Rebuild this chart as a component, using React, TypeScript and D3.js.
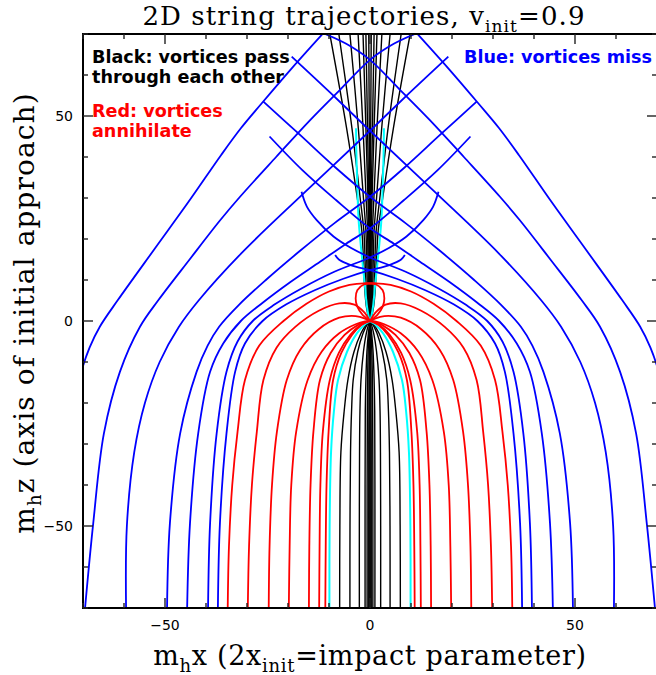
import React from "react";
import * as d3 from "d3";

type Pt = [number, number];

// ---- data: one half of each family (start at x = -b, bottom) ----
// the other half is the mirror image x -> -x

const blackTracks: Pt[][] = [
  [[-7.4, -70], [-7.35, -50], [-7.1, -32], [-6.3, -22], [-5.4, -14.4], [-3.9, -7.5], [-2.2, -3], [-0.8, -0.7], [0, 0], [0.8, 3], [1.3, 8], [1.6, 15], [2, 22], [3.1, 30], [5.7, 47], [9.8, 70]],
  [[-4.9, -70], [-4.88, -50], [-4.75, -32], [-4.5, -22], [-4.1, -14.4], [-3, -7.5], [-1.7, -3], [-0.6, -0.7], [0, 0], [0.6, 3], [1, 8], [1.2, 15], [1.5, 22], [2.4, 30], [4.4, 47], [7.6, 70]],
  [[-2.6, -70], [-2.6, -50], [-2.55, -32], [-2.45, -22], [-2.2, -14.4], [-1.6, -7.5], [-0.9, -3], [-0.3, -0.7], [0, 0], [0.4, 3], [0.65, 8], [0.8, 15], [1, 22], [1.6, 30], [2.85, 47], [4.9, 70]],
  [[-1.2, -70], [-1.2, -40], [-1.15, -22], [-1.0, -14.4], [-0.75, -7.5], [-0.4, -3], [0, 0], [0.25, 3], [0.4, 8], [0.5, 15], [0.6, 22], [0.95, 30], [1.7, 47], [2.9, 70]],
  [[-0.7, -70], [-0.7, -40], [-0.65, -22], [-0.55, -12], [-0.4, -6], [-0.2, -2.5], [0, 0], [0.15, 3], [0.22, 8], [0.26, 15], [0.32, 22], [0.5, 30], [1, 47], [1.7, 70]],
  [[-0.3, -70], [-0.3, -30], [-0.25, -14], [-0.15, -5], [0, 0], [0.1, 8], [0.15, 20], [0.3, 30], [0.6, 47], [1, 70]],
  [[0, -70], [0, -20], [0, 0], [0.05, 20], [0.3, 70]],
];

const cyanTracks: Pt[][] = [
  [[-9.9, -70], [-9.85, -50], [-9.5, -32], [-8.8, -22], [-7.8, -14.4], [-5.6, -7.5], [-3.2, -3], [-1.2, -0.8], [0, 0], [0.3, 1], [0.8, 4], [1.2, 8.4], [1.8, 14], [2.4, 20], [2.8, 25], [3.1, 33], [3.3, 40], [3.4, 47]],
];

const redTracks: Pt[][] = [
  [[-34.7, -70], [-34.4, -55], [-33.6, -40], [-32.3, -27], [-30.5, -14.4], [-27, -6], [-21.1, 0], [-15.5, 4.2], [-10, 7.2], [-5, 8.8], [-1.5, 9.2], [1.5, 8.9], [3.1, 7.5], [3.5, 5.5], [3.1, 3.5], [1.8, 1.5], [0, 0]],
  [[-29.8, -70], [-29.5, -55], [-28.8, -40], [-27.6, -27], [-26, -14.4], [-22.8, -6.5], [-18.3, -1.5], [-12.5, 2.5], [-7.5, 4.3], [-3.8, 4.0], [-1.5, 2.2], [0, 0]],
  [[-24.7, -70], [-24.5, -55], [-23.9, -40], [-22.7, -27], [-20.3, -14.4], [-17, -7], [-12.5, -2], [-7.5, 0.8], [-3.5, 1.2], [-1.2, 0.6], [0, 0]],
  [[-19.8, -70], [-19.6, -55], [-19.2, -40], [-18, -27], [-15.2, -14.4], [-11.8, -7.5], [-7.5, -3], [-3.5, -0.8], [-1.2, -0.1], [0, 0]],
  [[-14.9, -70], [-14.8, -55], [-14.5, -40], [-13.8, -27], [-12.2, -14.4], [-9.6, -7.8], [-6.2, -3.4], [-3, -1], [-1, -0.2], [0, 0]],
  [[-12.4, -70], [-12.3, -55], [-12.1, -40], [-11.5, -27], [-9.8, -14.4], [-7.6, -7.8], [-4.8, -3.4], [-2.3, -1], [-0.8, -0.2], [0, 0]],
  [[-10.9, -70], [-10.8, -55], [-10.6, -40], [-10.1, -27], [-9, -14.4], [-7, -7.8], [-4.4, -3.4], [-2.1, -1], [-0.7, -0.2], [0, 0]],
];

const blueTracks: Pt[][] = [
  [[-76, -70], [-75.3, -50], [-74.2, -35], [-72.6, -23], [-70.5, -12.7], [-68.4, -6.5], [-65.9, -1.4], [-61.5, 5.1], [-52.6, 17.5], [-44.3, 29], [-36.3, 40.5], [-31.5, 47], [-26.4, 53.1], [-19.2, 61.5], [-11.4, 70.2], [-7, 75]],
  [[-69.5, -70], [-67.5, -49.3], [-64.9, -27.4], [-61, -12.4], [-56.1, -1.4], [-51.6, 5.1], [-44, 15], [-36.6, 24.5], [-31.7, 30.3], [-22.9, 40], [-14.6, 49], [-7.2, 56.5], [0, 63.7], [5.8, 67.6], [11.4, 70.2], [14, 71.2]],
  [[-59.5, -70], [-59.3, -50], [-57.5, -32], [-54.9, -20], [-51.3, -10], [-46.6, -1.4], [-41.8, 5], [-31.4, 16.5], [-16, 31.3], [0, 46.4], [9.5, 55.5], [19.1, 64.5]],
  [[-49.5, -70], [-48.8, -49.3], [-46.3, -27.4], [-42.3, -12.4], [-39.6, -6], [-36.8, -1.4], [-31.9, 4], [-25.4, 10], [-17.2, 17], [-8.5, 24], [0, 30.3], [8.5, 37.5], [17.2, 45.5], [26, 53.5]],
  [[-44.6, -70], [-43.9, -49.3], [-41.9, -27.4], [-39, -12.4], [-35.8, -5.5], [-31.5, 0], [-26.1, 4.5], [-19.4, 9.5], [-12.1, 14.5], [-5.9, 18.8], [0, 22.6], [8.3, 29.5], [16.5, 36.8], [24.5, 45]],
  [[-39.5, -70], [-39, -49.3], [-37.4, -27.4], [-35, -12.4], [-32.3, -5], [-28.6, 0], [-23.3, 4], [-16.6, 8], [-8.7, 12], [0, 15.5], [4.6, 17.8], [8.9, 20.6], [13, 24.6], [15.4, 27.9], [16.7, 31.5]],
  [[-37.1, -70], [-36.6, -49.3], [-35, -27.4], [-32.9, -12.4], [-30.5, -5.5], [-26.2, 0], [-20.5, 4], [-13.5, 7.5], [-6.5, 10.3], [0, 12.4], [3.3, 13.2], [5.6, 14], [7.6, 15], [8.5, 16.1]],
];

const majorTicks = [-50, 0, 50];
const majorLabels = ["\u221250", "0", "50"];

// drawing order: black first, blue on top
const families = [
  { tracks: blackTracks, color: "#000000", width: 1.4 },
  { tracks: cyanTracks, color: "#00ffff", width: 2 },
  { tracks: redTracks, color: "#ff0000", width: 1.8 },
  { tracks: blueTracks, color: "#0000ff", width: 1.8 },
];

export default function App() {
  const left = 83, right = 657, top = 34, bottom = 608;
  const x = d3.scaleLinear().domain([-70, 70]).range([left, right]);
  const y = d3.scaleLinear().domain([-70, 70]).range([bottom, top]);

  const line = d3
    .line<Pt>()
    .x((d) => x(d[0]))
    .y((d) => y(d[1]))
    .curve(d3.curveCatmullRom.alpha(0.5));

  const mirror = (t: Pt[]): Pt[] => t.map((p) => [-p[0], p[1]] as Pt);

  const minor = x.ticks(14);
  const tickLen = (v: number) => (majorTicks.includes(v) ? 10 : 5);

  return (
    <svg
      width={656}
      height={675}
      style={{ position: "absolute", left: 0, top: 0, background: "#fff" }}
    >
      <defs>
        <clipPath id="plot">
          <rect x={left} y={top} width={right - left} height={bottom - top} />
        </clipPath>
      </defs>

      <g clipPath="url(#plot)" fill="none">
        {families.map((f, i) =>
          f.tracks.map((t, j) => (
            <g key={`${i}-${j}`} stroke={f.color} strokeWidth={f.width} strokeLinejoin="round">
              <path d={line(t) || ""} />
              <path d={line(mirror(t)) || ""} />
            </g>
          ))
        )}
      </g>

      {/* frame and ticks */}
      <rect x={left} y={top} width={right - left} height={bottom - top} fill="none" stroke="#000" strokeWidth={2} />
      <g stroke="#222" strokeWidth={1.4}>
        {minor.map((v) => (
          <g key={v}>
            <line x1={x(v)} x2={x(v)} y1={bottom} y2={bottom - tickLen(v)} />
            <line x1={x(v)} x2={x(v)} y1={top} y2={top + tickLen(v)} />
            <line x1={left} x2={left + tickLen(v)} y1={y(v)} y2={y(v)} />
            <line x1={right} x2={right - tickLen(v)} y1={y(v)} y2={y(v)} />
          </g>
        ))}
      </g>

      <g fontFamily="DejaVu Sans" fontSize={14} fill="#000">
        {majorTicks.map((v, i) => (
          <text key={"x" + v} x={x(v)} y={630} textAnchor="middle">
            {majorLabels[i]}
          </text>
        ))}
        {majorTicks.map((v, i) => (
          <text key={"y" + v} x={73} y={y(v) + 5} textAnchor="end">
            {majorLabels[i]}
          </text>
        ))}
      </g>

      {/* notes */}
      <g fontFamily="DejaVu Sans" fontWeight="bold" fontSize={17.6}>
        <text x={92} y={63} fill="#000">Black: vortices pass</text>
        <text x={92} y={83} fill="#000">through each other</text>
        <text x={92} y={117} fill="#ff0000">Red: vortices</text>
        <text x={92} y={137} fill="#ff0000">annihilate</text>
        <text x={464} y={63} fill="#0000ff">Blue: vortices miss</text>
      </g>

      {/* title and axis labels */}
      <text x={364} y={25} textAnchor="middle" fontFamily="DejaVu Serif" fontSize={26} letterSpacing={1.1}>
        2D string trajectories, v<tspan fontSize={17} dy={7}>init</tspan>
        <tspan dy={-7}>=0.9</tspan>
      </text>
      <text x={370} y={665} textAnchor="middle" fontFamily="DejaVu Serif" fontSize={27} letterSpacing={0.7}>
        m<tspan fontSize={18} dy={7}>h</tspan>
        <tspan dy={-7}>x (2x</tspan>
        <tspan fontSize={18} dy={7}>init</tspan>
        <tspan dy={-7}>=impact parameter)</tspan>
      </text>
      <text
        transform="translate(34,313) rotate(-90)"
        textAnchor="middle"
        fontFamily="DejaVu Serif"
        fontSize={28}
        letterSpacing={1.1}
      >
        m<tspan fontSize={18} dy={7}>h</tspan>
        <tspan dy={-7}>z (axis of initial approach)</tspan>
      </text>
    </svg>
  );
}
